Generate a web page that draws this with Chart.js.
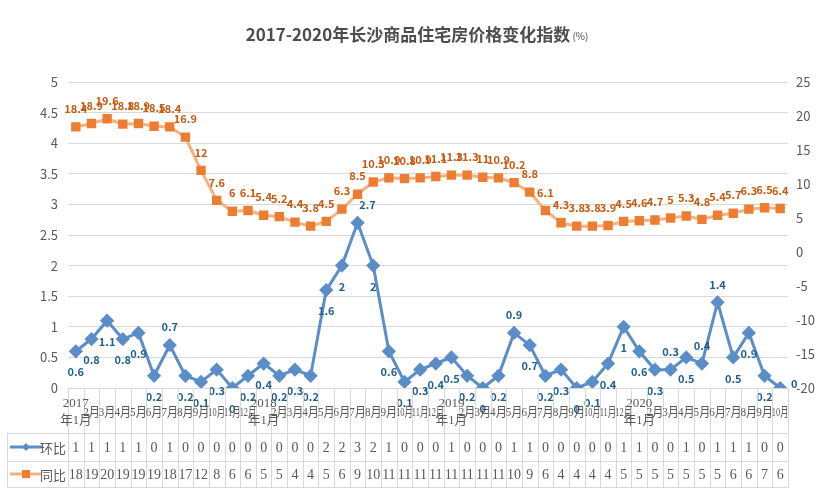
<!DOCTYPE html>
<html>
<head>
<meta charset="utf-8">
<script src="https://cdn.jsdelivr.net/npm/chart.js@4/dist/chart.umd.min.js"></script>
<style>
  html, body { margin: 0; padding: 0; background: #fff; }
  #wrap { width: 834px; height: 501px; }
</style>
</head>
<body>
<div id="wrap"><canvas id="chart" width="834" height="501"></canvas></div>
<script>
// 月份（类目）
const categories = [
  '2017年1月', '2月', '3月', '4月', '5月', '6月', '7月', '8月', '9月', '10月', '11月', '12月',
  '2018年1月', '2月', '3月', '4月', '5月', '6月', '7月', '8月', '9月', '10月', '11月', '12月',
  '2019年1月', '2月', '3月', '4月', '5月', '6月', '7月', '8月', '9月', '10月', '11月', '12月',
  '2020年1月', '2月', '3月', '4月', '5月', '6月', '7月', '8月', '9月', '10月'
];

// 环比 (左轴)
const huanbi = [
  0.6, 0.8, 1.1, 0.8, 0.9, 0.2, 0.7, 0.2, 0.1, 0.3, 0, 0.2,
  0.4, 0.2, 0.3, 0.2, 1.6, 2, 2.7, 2, 0.6, 0.1, 0.3, 0.4,
  0.5, 0.2, 0, 0.2, 0.9, 0.7, 0.2, 0.3, 0, 0.1, 0.4, 1,
  0.6, 0.3, 0.3, 0.5, 0.4, 1.4, 0.5, 0.9, 0.2, 0
];

// 同比 (右轴)
const tongbi = [
  18.4, 18.9, 19.6, 18.8, 18.9, 18.5, 18.4, 16.9, 12, 7.6, 6, 6.1,
  5.4, 5.2, 4.4, 3.8, 4.5, 6.3, 8.5, 10.3, 10.9, 10.8, 10.9, 11.1,
  11.3, 11.3, 11, 10.9, 10.2, 8.8, 6.1, 4.3, 3.8, 3.8, 3.9, 4.5,
  4.6, 4.7, 5, 5.3, 4.8, 5.4, 5.7, 6.3, 6.5, 6.4
];

const leftRange = { min: 0, max: 5, step: 0.5 };
const rightRange = { min: -20, max: 25, step: 5 };

const BLUE = '#5b8dc8';
const BLUE_TXT = '#1f5f8f';
const ORANGE = '#ed7d31';
const ORANGE_LINE = '#f4b183';
const ORANGE_TXT = '#c55a11';
const GRAY = '#595959';
const GRID = '#d9d9d9';
const FONT = '"Noto Sans CJK SC", "Noto Sans", sans-serif';
const SERIF = '"Liberation Serif", "Noto Sans CJK SC", serif';

// 环比标签放在点上方的几个位置
const hbAbove = [6, 18, 28, 38, 40, 41];

const decoPlugin = {
  id: 'deco',
  beforeDraw(chart) {
    const ctx = chart.ctx;
    ctx.save();
    ctx.fillStyle = '#fff';
    ctx.fillRect(0, 0, chart.width, chart.height);
    // 标题
    ctx.fillStyle = '#4d4d4d';
    ctx.textBaseline = 'middle';
    ctx.font = 'bold 17px ' + FONT;
    const t1 = '2017-2020年长沙商品住宅房价格变化指数';
    const t2 = ' (%)';
    const w1 = ctx.measureText(t1).width;
    ctx.font = '10px ' + FONT;
    const w2 = ctx.measureText(t2).width;
    const sx = chart.width / 2 - (w1 + w2) / 2;
    ctx.font = 'bold 17px ' + FONT;
    ctx.textAlign = 'left';
    ctx.fillText(t1, sx, 35);
    ctx.font = '10px ' + FONT;
    ctx.fillText(t2, sx + w1, 36);
    ctx.restore();
  },
  afterDatasetsDraw(chart) {
    const ctx = chart.ctx;
    ctx.save();
    ctx.textAlign = 'center';
    ctx.textBaseline = 'middle';
    ctx.font = 'bold 11px ' + FONT;
    // 同比 标签
    ctx.fillStyle = ORANGE_TXT;
    chart.getDatasetMeta(1).data.forEach((pt, i) => {
      ctx.fillText(String(tongbi[i]), pt.x, pt.y - 18);
    });
    // 环比 标签
    ctx.fillStyle = BLUE_TXT;
    chart.getDatasetMeta(0).data.forEach((pt, i) => {
      let dx = 0, dy = 21;
      if (hbAbove.includes(i)) dy = -18;
      if (i === 18) dx = 10;
      if (i === categories.length - 1) { dx = 14; dy = -4; }
      ctx.fillText(String(huanbi[i]), pt.x + dx, pt.y + dy);
    });
    ctx.restore();
  },
  afterDraw(chart) {
    const ctx = chart.ctx;
    const a = chart.chartArea;
    const x = chart.scales.x;
    const n = categories.length;
    const tableTop = 433, rowMid = 461, tableBottom = 487, tableLeft = 7;
    const cw = (a.right - a.left) / n;
    ctx.save();
    ctx.strokeStyle = GRID;
    ctx.lineWidth = 1;
    // 竖分隔线
    for (let i = 0; i <= n; i++) {
      const px = Math.round(a.left + i * cw) + 0.5;
      ctx.beginPath();
      ctx.moveTo(px, a.bottom);
      ctx.lineTo(px, tableBottom);
      ctx.stroke();
    }
    // 横线
    [tableTop, rowMid, tableBottom].forEach(y => {
      ctx.beginPath();
      ctx.moveTo(tableLeft, y + 0.5);
      ctx.lineTo(Math.round(a.right) + 0.5, y + 0.5);
      ctx.stroke();
    });
    ctx.beginPath();
    ctx.moveTo(tableLeft + 0.5, tableTop);
    ctx.lineTo(tableLeft + 0.5, tableBottom);
    ctx.stroke();

    // x 轴标签
    ctx.fillStyle = GRAY;
    ctx.textAlign = 'center';
    ctx.textBaseline = 'middle';
    ctx.font = '13px ' + SERIF;
    categories.forEach((lab, i) => {
      const px = x.getPixelForValue(i);
      const k = lab.indexOf('年');
      if (k > 0) {
        ctx.fillText(lab.slice(0, k), px, 404, cw * 2);
        ctx.fillText(lab.slice(k), px, 421, cw * 2);
      } else {
        ctx.fillText(lab, px, 413, cw + 1);
      }
    });

    // 数据表
    const r1 = (tableTop + rowMid) / 2 + 1, r2 = (rowMid + tableBottom) / 2 + 1;
    ctx.font = '14px ' + SERIF;
    huanbi.forEach((v, i) => {
      ctx.fillText(String(Math.round(v)), x.getPixelForValue(i), r1, cw - 1);
    });
    tongbi.forEach((v, i) => {
      ctx.fillText(String(Math.round(v)), x.getPixelForValue(i), r2, cw - 1);
    });

    // 图例键
    ctx.lineWidth = 3;
    ctx.strokeStyle = BLUE;
    ctx.beginPath(); ctx.moveTo(10, r1 - 1); ctx.lineTo(42, r1 - 1); ctx.stroke();
    ctx.fillStyle = BLUE;
    ctx.beginPath();
    ctx.moveTo(26, r1 - 5); ctx.lineTo(30, r1 - 1); ctx.lineTo(26, r1 + 3); ctx.lineTo(22, r1 - 1);
    ctx.closePath(); ctx.fill();
    ctx.strokeStyle = ORANGE_LINE;
    ctx.beginPath(); ctx.moveTo(10, r2 - 1); ctx.lineTo(42, r2 - 1); ctx.stroke();
    ctx.fillStyle = ORANGE;
    ctx.fillRect(22, r2 - 5, 8, 8);
    ctx.fillStyle = GRAY;
    ctx.textAlign = 'right';
    ctx.font = '13px ' + FONT;
    ctx.fillText('环比', 66, r1);
    ctx.fillText('同比', 66, r2);
    ctx.restore();
  }
};

new Chart(document.getElementById('chart'), {
  type: 'line',
  data: {
    labels: categories,
    datasets: [
      {
        label: '环比',
        data: huanbi,
        yAxisID: 'y',
        borderColor: BLUE,
        backgroundColor: BLUE,
        borderWidth: 3,
        pointStyle: 'rectRot',
        pointRadius: 5,
        pointBackgroundColor: BLUE,
        pointBorderColor: BLUE,
        tension: 0
      },
      {
        label: '同比',
        data: tongbi,
        yAxisID: 'y1',
        borderColor: ORANGE_LINE,
        backgroundColor: ORANGE,
        borderWidth: 3,
        pointStyle: 'rect',
        pointRadius: 4.5,
        pointBackgroundColor: ORANGE,
        pointBorderColor: ORANGE,
        tension: 0
      }
    ]
  },
  options: {
    responsive: false,
    animation: false,
    layout: { padding: { top: 82, left: 0, right: 0, bottom: 14 } },
    plugins: {
      legend: { display: false },
      title: { display: false },
      tooltip: { enabled: false }
    },
    scales: {
      x: {
        type: 'category',
        offset: true,
        grid: { display: false },
        border: { display: false },
        ticks: { display: false },
        afterFit: s => { s.height = 99; }
      },
      y: {
        position: 'left',
        min: leftRange.min,
        max: leftRange.max,
        ticks: {
          stepSize: leftRange.step, color: GRAY, font: { size: 13, family: FONT }, padding: 10,
          callback: v => String(Math.round(v * 10) / 10)
        },
        grid: { color: GRID, drawTicks: false },
        border: { display: false },
        afterFit: s => { s.width = 68; }
      },
      y1: {
        position: 'right',
        min: rightRange.min,
        max: rightRange.max,
        ticks: { stepSize: rightRange.step, color: GRAY, font: { size: 13, family: FONT }, padding: 8 },
        grid: { display: false, drawTicks: false },
        border: { display: false },
        afterFit: s => { s.width = 46; }
      }
    }
  },
  plugins: [decoPlugin]
});
</script>
</body>
</html>
